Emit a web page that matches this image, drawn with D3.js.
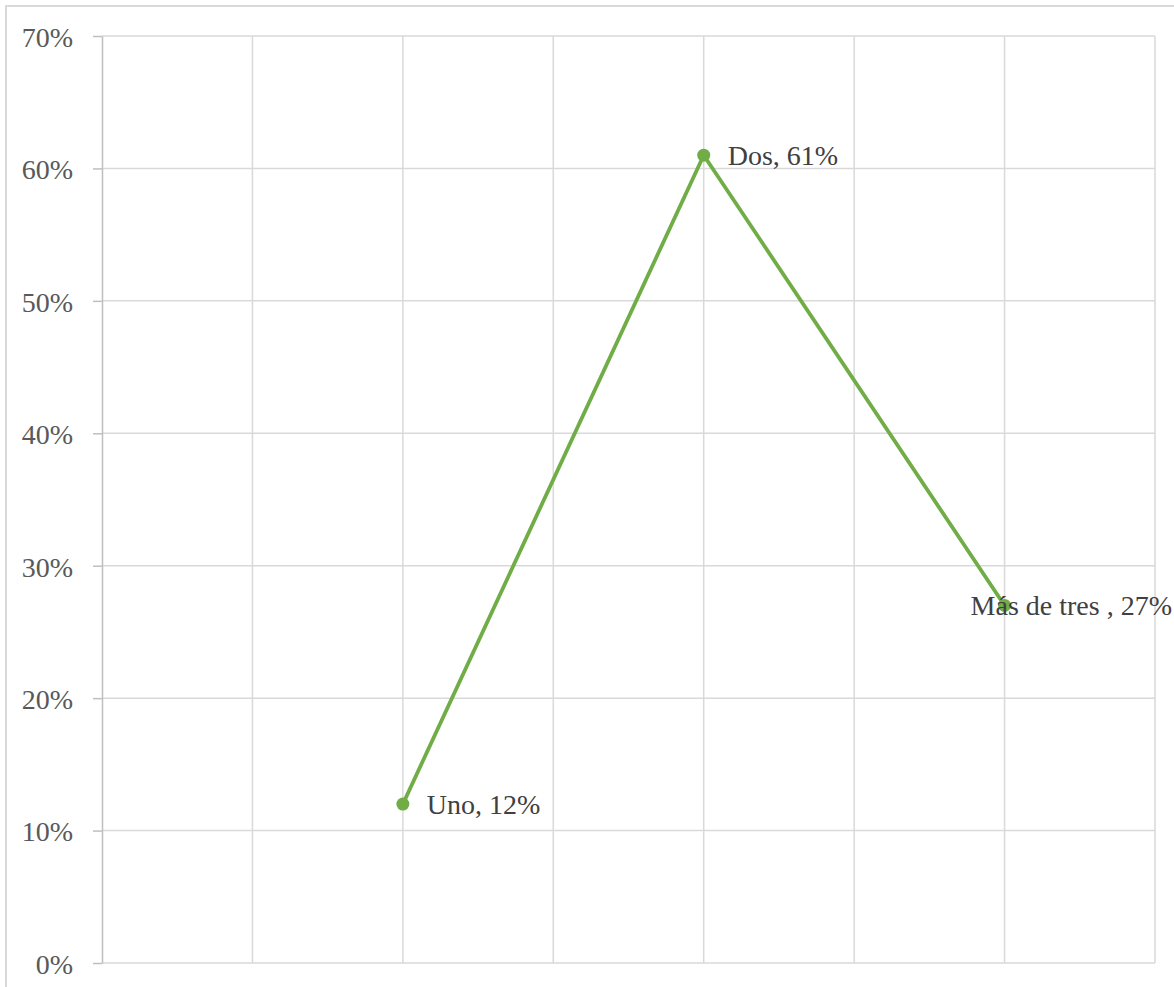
<!DOCTYPE html>
<html>
<head>
<meta charset="utf-8">
<script src="https://cdn.jsdelivr.net/npm/d3@7"></script>
<style>
  html, body { margin: 0; padding: 0; background: #ffffff; }
  svg { display: block; }
</style>
</head>
<body>
<svg id="chart" width="1174" height="987"></svg>
<script>
// Series: number of items, share of respondents
const categories = ["Uno", "Dos", "Más de tres "];
const xValues = [2, 4, 6];
const values = [0.12, 0.61, 0.27];
const yTicks = [0, 0.1, 0.2, 0.3, 0.4, 0.5, 0.6, 0.7];
const xTicks = [0, 1, 2, 3, 4, 5, 6, 7];

const W = 1174, H = 987;
const plot = { left: 102, right: 1155, top: 36, bottom: 963 };

const svg = d3.select("#chart");
const font = "'Liberation Serif', 'Times New Roman', serif";

// Chart area border
svg.append("rect")
  .attr("x", 6).attr("y", 6)
  .attr("width", W).attr("height", H)
  .attr("fill", "#ffffff")
  .attr("stroke", "#d9d9d9")
  .attr("stroke-width", 2);

const x = d3.scaleLinear().domain([0, 7]).range([plot.left, plot.right]);
const y = d3.scaleLinear().domain([0, 0.7]).range([plot.bottom, plot.top]);

// Horizontal gridlines
svg.append("g")
  .selectAll("line")
  .data(yTicks.filter(d => d > 0))
  .join("line")
  .attr("x1", plot.left).attr("x2", plot.right)
  .attr("y1", d => y(d)).attr("y2", d => y(d))
  .attr("stroke", "#d9d9d9")
  .attr("stroke-width", 1.5);

// Vertical gridlines
svg.append("g")
  .selectAll("line")
  .data(xTicks.filter(d => d > 0))
  .join("line")
  .attr("x1", d => x(d)).attr("x2", d => x(d))
  .attr("y1", plot.top).attr("y2", plot.bottom)
  .attr("stroke", "#d9d9d9")
  .attr("stroke-width", 1.5);

// Horizontal axis line
svg.append("line")
  .attr("x1", plot.left).attr("x2", plot.right)
  .attr("y1", y(0)).attr("y2", y(0))
  .attr("stroke", "#d9d9d9")
  .attr("stroke-width", 1.5);

// Vertical axis with outside ticks
const yAxis = d3.axisLeft(y)
  .tickValues(yTicks)
  .tickFormat(d3.format(".0%"))
  .tickSizeInner(9)
  .tickSizeOuter(0)
  .tickPadding(20);

const gy = svg.append("g")
  .attr("transform", `translate(${plot.left},0)`)
  .call(yAxis);
gy.select(".domain").attr("stroke", "#bfbfbf").attr("stroke-width", 1.5);
gy.selectAll(".tick line").attr("stroke", "#bfbfbf").attr("stroke-width", 1.5);
gy.selectAll(".tick text")
  .attr("font-family", font)
  .attr("font-size", 28)
  .attr("fill", "#595959")
  .attr("dy", "0.37em");

// Series line
const pts = values.map((v, i) => ({ name: categories[i], xv: xValues[i], v }));
svg.append("path")
  .datum(pts)
  .attr("fill", "none")
  .attr("stroke", "#70ad47")
  .attr("stroke-width", 3.8)
  .attr("stroke-linejoin", "round")
  .attr("d", d3.line().x(d => x(d.xv)).y(d => y(d.v)));

// Markers
svg.append("g")
  .selectAll("circle")
  .data(pts)
  .join("circle")
  .attr("cx", d => x(d.xv))
  .attr("cy", d => y(d.v))
  .attr("r", 6.5)
  .attr("fill", "#70ad47");

// Data labels to the right of each point, kept inside the chart area
const pct = d3.format(".0%");
svg.append("g")
  .selectAll("text")
  .data(pts)
  .join("text")
  .attr("font-family", font)
  .attr("font-size", 28)
  .attr("fill", "#404040")
  .attr("y", d => y(d.v) + 10)
  .text(d => `${d.name}, ${pct(d.v)}`)
  .each(function(d) {
    const w = this.getComputedTextLength();
    const px = x(d.xv) + 24;
    this.setAttribute("x", Math.min(px, W - 2 - w));
  });
</script>
</body>
</html>
